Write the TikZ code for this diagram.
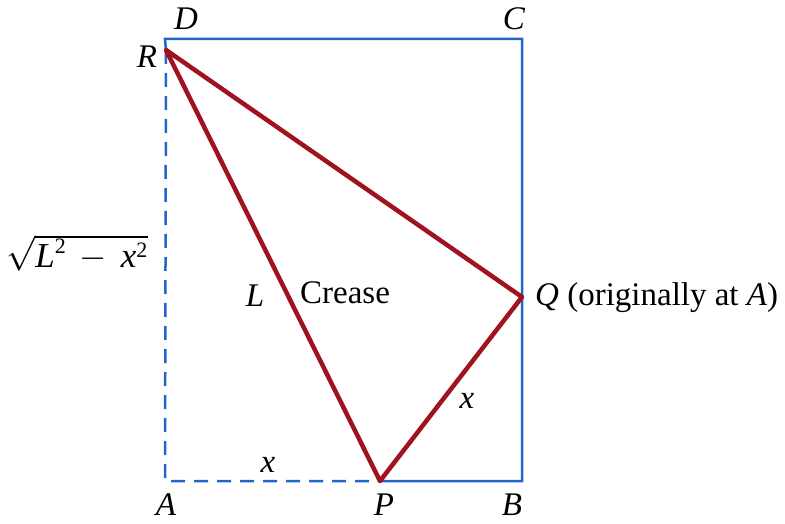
\RequirePackage{fix-cm}
\documentclass[tikz,border=0pt]{standalone}
\usepackage{fontspec}
\setmainfont{Liberation Serif}
\usetikzlibrary{calc}
\definecolor{sideblue}{RGB}{34,102,204}
\definecolor{creasered}{RGB}{160,18,30}
\newcommand{\supsq}{^{\mbox{\fontsize{22}{24}\selectfont 2}}}
\tikzset{
  side/.style={draw=sideblue, line width=2.5pt},
  sidedash/.style={draw=sideblue, line width=2.5pt, dash pattern=on 14pt off 9pt},
  fold/.style={draw=creasered, line width=4.5pt, line join=round, line cap=round},
  lbl/.style={font=\fontsize{33}{38}\selectfont, inner sep=0pt}
}
\begin{document}
\begin{tikzpicture}[x=1pt,y=-1pt]
\useasboundingbox (0,0) rectangle (785,524);
\coordinate (A) at (165,481);
\coordinate (B) at (522,481);
\coordinate (C) at (522,39);
\coordinate (D) at (165,39);
\coordinate (R) at (166,50);
\coordinate (P) at (380,481);
\coordinate (Q) at (522,297);
\draw[side] (R) -- (D) -- (C) -- (B) -- (P);
\draw[sidedash] (R) -- (A) -- (P);
\draw[fold] (R) -- (Q) -- (P) -- cycle;
\node[lbl] (lD) at (186,19) {\textit{D}};
\node[lbl] (lC) at (514,19) {\textit{C}};
\node[lbl] (lR) at (147,57) {\textit{R}};
\node[lbl] (lA) at (166,505) {\textit{A}};
\node[lbl] (lP) at (384,505) {\textit{P}};
\node[lbl] (lB) at (512,505) {\textit{B}};
\node[lbl, anchor=west] (lQ) at (535,298) {\textit{Q} (originally at \textit{A})};
\node[lbl] (lx1) at (268,465) {\textit{x}};
\node[lbl] (lx2) at (467,401) {\textit{x}};
\node[lbl] (lL) at (255,296) {\textit{L}};
\node[lbl] (lcr) at (345,293) {Crease};
\node[lbl, font=\fontsize{35}{40}\selectfont] (lsq) at (77,253) {$\sqrt{\mbox{\textit{L}}\supsq\,-\,\mbox{\textit{x}}\supsq}$};
\end{tikzpicture}
\end{document}
